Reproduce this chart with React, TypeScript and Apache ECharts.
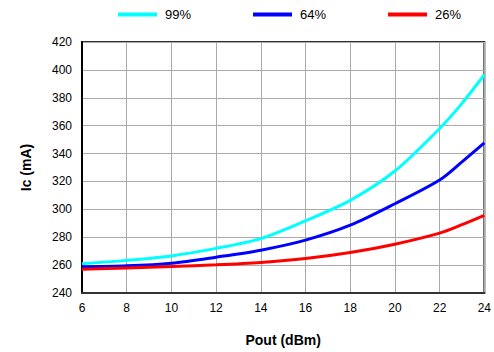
import React, { useEffect, useRef } from "react";
import * as echarts from "echarts";

const pout = [6, 8, 10, 12, 14, 16, 18, 20, 22, 23, 24];
const s99 = [261, 263.4, 266.6, 272, 279, 291.7, 306.4, 327.5, 358, 376, 396.5];
const s64 = [258.8, 259.5, 261.4, 265.7, 270.7, 277.9, 288.6, 304, 321, 334, 347.6];
const s26 = [257, 258, 259, 260.2, 261.9, 264.7, 269, 275, 282.9, 289, 295.7];
const seriesNames = ["99%", "64%", "26%"];
const seriesColors = ["#00ffff", "#0000ff", "#ff0000"];

export default function App() {
  const ref = useRef<HTMLDivElement>(null);
  useEffect(() => {
    if (!ref.current) return;
    const chart = echarts.init(ref.current, null, { renderer: "svg" });
    const datas = [s99, s64, s26];
    chart.setOption({
      animation: false,
      backgroundColor: "#fff",
      textStyle: { fontFamily: "Liberation Sans, Arial, sans-serif" },
      legend: {
        top: 3,
        left: 113,
        itemGap: 62,
        itemWidth: 39,
        itemHeight: 4,
        icon: "rect",
        textStyle: { fontSize: 13, color: "#000", padding: [0, 0, 0, 3] },
        data: seriesNames,
      },
      grid: {
        left: 82,
        right: 7,
        top: 42,
        bottom: 58,
        show: true,
        borderColor: "#333",
        borderWidth: 2,
      },
      xAxis: {
        type: "value",
        min: 6,
        max: 24,
        interval: 2,
        name: "Pout (dBm)",
        nameLocation: "middle",
        nameGap: 40,
        nameTextStyle: { fontSize: 14, fontWeight: "bold", color: "#000" },
        axisLine: { show: true, lineStyle: { color: "#333", width: 2 } },
        axisTick: { show: false },
        axisLabel: { fontSize: 12, color: "#000", margin: 9 },
        splitLine: { show: true, lineStyle: { color: "#aaa", width: 1 } },
      },
      yAxis: {
        type: "value",
        min: 240,
        max: 420,
        interval: 20,
        name: "Ic (mA)",
        nameLocation: "middle",
        nameGap: 49,
        nameTextStyle: { fontSize: 14, fontWeight: "bold", color: "#000" },
        axisLine: { show: true, lineStyle: { color: "#000", width: 2 } },
        axisTick: { show: false },
        axisLabel: { fontSize: 12, color: "#000", margin: 10 },
        splitLine: { show: true, lineStyle: { color: "#aaa", width: 1 } },
      },
      series: datas.map((d, i) => ({
        name: seriesNames[i],
        type: "line",
        data: d.map((v, j) => [pout[j], v]),
        showSymbol: false,
        symbol: "none",
        smooth: 0.3,
        lineStyle: { color: seriesColors[i], width: 3 },
        itemStyle: { color: seriesColors[i] },
      })),
    });
    return () => chart.dispose();
  }, []);
  return <div ref={ref} style={{ width: 494, height: 352, position: "absolute", left: 0, top: 0 }} />;
}
